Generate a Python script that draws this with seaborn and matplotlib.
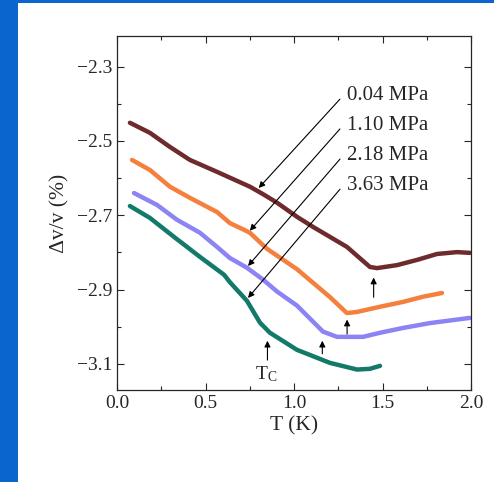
import seaborn as sns
import pandas as pd
import numpy as np
import matplotlib.pyplot as plt
from matplotlib.patches import Rectangle
from matplotlib.ticker import MultipleLocator

# values
labels = ['0.04 MPa', '1.10 MPa', '2.18 MPa', '3.63 MPa']
colors = ['#6e2b2e', '#f5803e', '#8c84f5', '#137a6a']

t_004 = [0.073, 0.186, 0.299, 0.412, 0.565, 0.751, 0.825, 0.904, 1.017, 1.107, 1.299, 1.429, 1.469,
         1.582, 1.695, 1.808, 1.921, 1.994]
v_004 = [-2.451, -2.478, -2.516, -2.551, -2.583, -2.623, -2.643, -2.666, -2.704, -2.731, -2.785, -2.839,
         -2.842, -2.834, -2.820, -2.804, -2.799, -2.801]

t_110 = [0.085, 0.186, 0.299, 0.412, 0.565, 0.638, 0.718, 0.751, 0.847, 1.017, 1.203, 1.299, 1.356,
         1.486, 1.616, 1.729, 1.836]
v_110 = [-2.551, -2.578, -2.623, -2.653, -2.691, -2.721, -2.739, -2.747, -2.790, -2.845, -2.920, -2.963,
         -2.960, -2.946, -2.933, -2.919, -2.909]

t_218 = [0.096, 0.226, 0.339, 0.469, 0.565, 0.638, 0.734, 0.825, 0.904, 1.017, 1.164, 1.243, 1.390,
         1.486, 1.616, 1.768, 1.864, 1.994]
v_218 = [-2.640, -2.672, -2.712, -2.747, -2.785, -2.815, -2.841, -2.873, -2.905, -2.943, -3.013, -3.027,
         -3.027, -3.016, -3.003, -2.990, -2.984, -2.976]

t_363 = [0.073, 0.186, 0.322, 0.469, 0.605, 0.638, 0.734, 0.808, 0.864, 1.017, 1.203, 1.356, 1.429, 1.486]
v_363 = [-2.675, -2.707, -2.758, -2.812, -2.860, -2.880, -2.930, -2.989, -3.016, -3.062, -3.097, -3.115,
         -3.113, -3.105]

# label arrows: (text y, arrow tip T, arrow tip v)
label_y = [-2.382, -2.462, -2.543, -2.624]
tip_t = [0.79, 0.74, 0.73, 0.73]
tip_v = [-2.632, -2.747, -2.842, -2.928]

# upward arrows marking the transitions
up_t = [1.45, 1.30, 1.16, 0.85]
up_from = [-2.928, -3.027, -3.08, -3.097]
up_to = [-2.86, -2.973, -3.03, -3.03]

df = pd.concat([
    pd.DataFrame({'T': t, 'v': v, 'p': lab})
    for t, v, lab in zip([t_004, t_110, t_218, t_363], [v_004, v_110, v_218, v_363], labels)
])

sns.set_style('ticks')
plt.rcParams['font.family'] = ['Liberation Serif', 'DejaVu Serif']
plt.rcParams['mathtext.fontset'] = 'stix'

fig = plt.figure(figsize=(4.94, 4.82), dpi=100)
fig.patch.set_facecolor('white')
# blue frame strips on the left and top
fig.patches.append(Rectangle((0, 0), 18 / 494, 1, transform=fig.transFigure,
                             facecolor='#0a66cc', edgecolor='none'))
fig.patches.append(Rectangle((0, 1 - 3 / 482), 1, 3 / 482, transform=fig.transFigure,
                             facecolor='#0a66cc', edgecolor='none'))

ax = fig.add_axes([117 / 494, 1 - 390 / 482, 354 / 494, 354 / 482])
sns.lineplot(data=df, x='T', y='v', hue='p', palette=colors, sort=False,
             linewidth=3.2, legend=False, ax=ax)

ax.set_xlim(0, 2.0)
ax.set_ylim(-3.17, -2.2175)
ax.xaxis.set_major_locator(MultipleLocator(0.5))
ax.xaxis.set_minor_locator(MultipleLocator(0.25))
ax.set_yticks([-2.3, -2.5, -2.7, -2.9, -3.1])
ax.yaxis.set_minor_locator(MultipleLocator(0.1))
ax.xaxis.set_major_formatter(plt.FuncFormatter(lambda x, p: f'{x:.1f}'))
ax.yaxis.set_major_formatter(plt.FuncFormatter(lambda x, p: f'{x:.1f}'.replace('-', '\u2212')))
ax.tick_params(which='both', direction='in', top=True, right=True, labelsize=14, width=0.8)
ax.tick_params(which='major', length=5)
ax.tick_params(which='minor', length=3)
for s in ax.spines.values():
    s.set_linewidth(0.9)

ax.set_xlabel('T (K)', fontsize=15.5, labelpad=3)
ax.set_ylabel('\u0394v/v (%)', fontsize=15.5, labelpad=5)

for lab, ly, tt, tv in zip(labels, label_y, tip_t, tip_v):
    ax.annotate('', xy=(tt, tv), xytext=(1.27, ly),
                arrowprops=dict(arrowstyle='-|>', color='black', lw=0.8, mutation_scale=9))
    ax.text(1.30, ly + 0.005, lab, fontsize=15, va='center', ha='left')

for ut, uf, uto in zip(up_t, up_from, up_to):
    ax.annotate('', xy=(ut, uto), xytext=(ut, uf),
                arrowprops=dict(arrowstyle='-|>', color='black', lw=0.8, mutation_scale=9))

ax.text(0.845, -3.128, 'T$_\\mathregular{C}$', fontsize=14, ha='center', va='center')

fig.savefig('out.png', dpi=100, facecolor=fig.get_facecolor())
